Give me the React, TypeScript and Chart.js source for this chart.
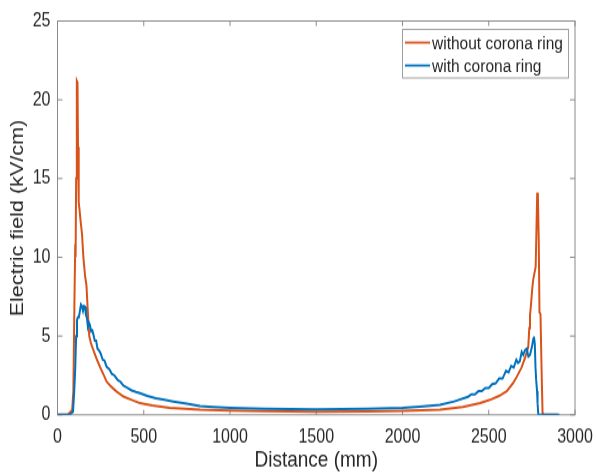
import React, { useEffect, useRef } from "react";
import { Chart, registerables } from "chart.js";

Chart.register(...registerables);

const xTicks = [0, 500, 1000, 1500, 2000, 2500, 3000];
const yTicks = [0, 5, 10, 15, 20, 25];
const seriesNames = ["without corona ring", "with corona ring"];
const xTitle = "Distance (mm)";
const yTitle = "Electric field (kV/cm)";

const orangeX = [0, 60, 85, 92, 98, 102, 105, 108, 112, 116, 119, 123, 128, 134, 142, 150, 160, 168, 176, 184, 195, 208, 225, 246, 265, 285, 310, 340, 382, 430, 478, 550, 650, 826, 1000, 1200, 1500, 1800, 2000, 2217, 2350, 2450, 2507, 2560, 2604, 2640, 2662, 2690, 2710, 2729, 2735, 2739, 2745, 2752, 2758, 2765, 2772, 2777, 2781, 2785, 2790, 2794, 2800, 2806, 2812, 2820, 2900];
const orangeY = [0, 0, 0.3, 1.5, 7, 10.2, 10, 15, 21.2, 21.1, 17, 13.5, 13, 12.3, 11.5, 10, 8.8, 8.2, 6.5, 5.0, 4.5, 4.1, 3.6, 3.05, 2.6, 2.1, 1.8, 1.5, 1.16, 0.95, 0.74, 0.6, 0.45, 0.32, 0.27, 0.23, 0.2, 0.21, 0.25, 0.32, 0.5, 0.75, 0.95, 1.2, 1.5, 2.0, 2.4, 3.0, 3.6, 4.3, 5.5, 6.3, 7.0, 8.0, 8.6, 9.0, 9.4, 12, 14.1, 13.8, 11, 6.5, 6.4, 3, 0.1, 0, 0];

const blueX = [0, 70, 90, 97, 103, 108, 113, 118, 124, 130, 136, 142, 148, 154, 160, 165, 170, 176, 182, 188, 195, 202, 208, 216, 224, 232, 240, 250, 262, 272, 285, 300, 315, 330, 350, 365, 382, 400, 430, 455, 478, 520, 570, 620, 671, 750, 826, 900, 1000, 1200, 1500, 1800, 2000, 2100, 2217, 2300, 2380, 2400, 2420, 2440, 2460, 2480, 2500, 2520, 2540, 2560, 2580, 2600, 2615, 2630, 2645, 2660, 2670, 2680, 2691, 2700, 2710, 2720, 2730, 2739, 2750, 2758, 2762, 2767, 2771, 2775, 2780, 2783, 2787, 2790, 2910];
const blueY = [0, 0, 0.2, 1.5, 3, 5, 6, 6.2, 6.2, 6.6, 7.0, 6.9, 6.6, 6.9, 6.85, 6.3, 6.2, 5.6, 5.85, 5.7, 5.3, 5.35, 5.1, 4.7, 4.7, 4.2, 4.1, 3.9, 3.5, 3.45, 3.05, 2.9, 2.6, 2.5, 2.2, 2.1, 1.85, 1.75, 1.55, 1.45, 1.38, 1.2, 1.05, 0.95, 0.85, 0.7, 0.55, 0.5, 0.45, 0.38, 0.35, 0.38, 0.45, 0.52, 0.63, 0.85, 1.15, 1.3, 1.3, 1.5, 1.5, 1.7, 1.7, 1.95, 2.0, 2.3, 2.3, 2.8, 2.7, 3.1, 3.0, 3.5, 3.3, 3.4, 4.0, 3.8, 4.1, 4.2, 3.7, 3.8, 4.3, 4.8, 4.97, 4.5, 3.0, 2.2, 1.5, 0.74, 0.05, 0, 0];

const ORANGE = "#D95319";
const BLUE = "#0072BD";
const FONT = "'Liberation Sans', Arial, Helvetica, sans-serif";
const TEXT = "#262626";

const W = 596;
const H = 475;
const S = 1.2;
const CH = Math.round(H / S);

const frame = {
  id: "frame",
  beforeDatasetsDraw(chart: any) {
    const { ctx, chartArea, scales } = chart;
    const { left, right, top, bottom } = chartArea;
    ctx.save();
    ctx.strokeStyle = "#8a8a8a";
    ctx.lineWidth = 1;
    ctx.strokeRect(left, top, right - left, bottom - top);
    ctx.beginPath();
    for (const v of xTicks) {
      const px = scales.x.getPixelForValue(v);
      ctx.moveTo(px, bottom);
      ctx.lineTo(px, bottom - 4.2);
      ctx.moveTo(px, top);
      ctx.lineTo(px, top + 4.2);
    }
    for (const v of yTicks) {
      const py = scales.y.getPixelForValue(v);
      ctx.moveTo(left, py);
      ctx.lineTo(left + 5, py);
      ctx.moveTo(right, py);
      ctx.lineTo(right - 5, py);
    }
    ctx.stroke();
    ctx.restore();
  },
};

const legendBox = {
  id: "legendBox",
  afterDraw(chart: any) {
    const { ctx } = chart;
    ctx.save();
    ctx.fillStyle = "#ffffff";
    ctx.fillRect(402, 24.2, 166, 40.8);
    ctx.strokeStyle = "#a0a0a0";
    ctx.lineWidth = 1;
    ctx.strokeRect(402.5, 24.5, 166, 40.5);
    const colors = [ORANGE, BLUE];
    const ys = [35.5, 54.6];
    ctx.font = `15.5px ${FONT}`;
    ctx.textBaseline = "middle";
    ctx.textAlign = "left";
    for (let i = 0; i < seriesNames.length; i++) {
      ctx.strokeStyle = colors[i];
      ctx.lineWidth = 1.8;
      ctx.beginPath();
      ctx.moveTo(405, ys[i]);
      ctx.lineTo(430, ys[i]);
      ctx.stroke();
      ctx.fillStyle = TEXT;
      ctx.fillText(seriesNames[i], 432, ys[i] + 1);
    }
    ctx.restore();
  },
};

export default function App() {
  const ref = useRef<HTMLCanvasElement | null>(null);
  useEffect(() => {
    const canvas = ref.current!;
    const toPts = (xs: number[], ys: number[]) => xs.map((x, i) => ({ x, y: ys[i] }));
    const chart = new Chart(canvas, {
      type: "line",
      data: {
        datasets: [
          {
            label: seriesNames[1],
            data: toPts(blueX, blueY),
            borderColor: BLUE,
            borderWidth: 2,
            pointRadius: 0,
            tension: 0,
            fill: false,
          },
          {
            label: seriesNames[0],
            data: toPts(orangeX, orangeY),
            borderColor: ORANGE,
            borderWidth: 2,
            pointRadius: 0,
            tension: 0,
            fill: false,
          },
        ],
      },
      options: {
        animation: false,
        responsive: false,
        devicePixelRatio: 1,
        layout: { padding: { left: 0, right: 21, top: 17.5, bottom: 0 } },
        plugins: { legend: { display: false }, tooltip: { enabled: false } },
        scales: {
          x: {
            type: "linear",
            min: 0,
            max: 3000,
            afterBuildTicks: (s: any) => {
              s.ticks = xTicks.map((v) => ({ value: v }));
            },
            afterFit: (s: any) => {
              s.height = CH - 345.8;
              s.paddingLeft = 0;
              s.paddingRight = 0;
            },
            ticks: {
              font: { family: FONT, size: 16 },
              color: TEXT,
              padding: 9.2,
              maxRotation: 0,
              autoSkip: false,
              callback: (v: any) => String(v),
            },
            grid: { display: false, drawTicks: false, tickLength: 0 },
            border: { display: false },
            title: {
              display: true,
              text: xTitle,
              font: { family: FONT, size: 19 },
              color: TEXT,
              padding: { top: 0, bottom: 0.6 },
            },
          },
          y: {
            type: "linear",
            min: 0,
            max: 25,
            afterBuildTicks: (s: any) => {
              s.ticks = yTicks.map((v) => ({ value: v }));
            },
            afterFit: (s: any) => {
              s.width = 57.5;
              s.paddingTop = 0;
              s.paddingBottom = 0;
            },
            ticks: {
              font: { family: FONT, size: 16 },
              color: TEXT,
              padding: 7,
              autoSkip: false,
              callback: (v: any) => String(v),
            },
            grid: { display: false, drawTicks: false, tickLength: 0 },
            border: { display: false },
            title: {
              display: true,
              text: yTitle,
              font: { family: FONT, size: 18 },
              color: TEXT,
              padding: { top: 7.7, bottom: 0 },
            },
          },
        },
      },
      plugins: [frame, legendBox],
    } as any);
    return () => chart.destroy();
  }, []);
  return (
    <div style={{ position: "fixed", left: 0, top: 0, width: W, height: H, background: "#fff" }}>
      <canvas
        ref={ref}
        width={W}
        height={CH}
        style={{ width: `${W}px`, height: `${H}px`, display: "block" }}
      />
    </div>
  );
}
